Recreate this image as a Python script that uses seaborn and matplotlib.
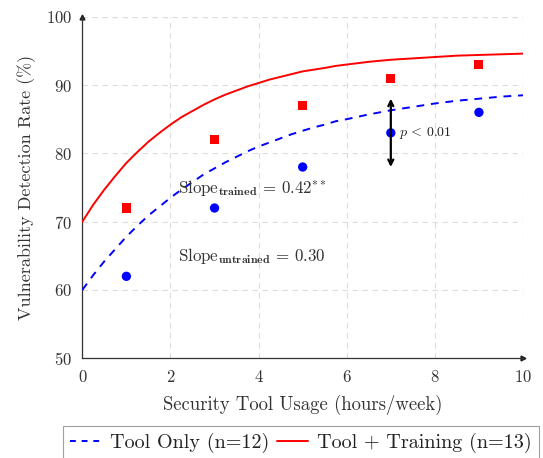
import numpy as np
import pandas as pd
import matplotlib
matplotlib.use("Agg")
import matplotlib.pyplot as plt
import seaborn as sns
from matplotlib.lines import Line2D

# ---- data ----
hours_pts = [1, 3, 5, 7, 9]
tool_only_pts = [62, 72, 78, 83, 86]
tool_training_pts = [72, 82, 87, 91, 93]

curve_x = [0, 0.25, 0.5, 0.75, 1, 1.25, 1.5, 1.75, 2, 2.25, 2.5, 2.75, 3, 3.25, 3.5, 3.75,
           4, 4.25, 4.5, 4.75, 5, 5.25, 5.5, 5.75, 6, 6.5, 7, 7.5, 8, 8.5, 9, 9.5, 10]
tool_only_curve = [60, 62.2, 64.2, 66.0, 67.8, 69.4, 70.9, 72.2, 73.5, 74.7, 75.8, 76.9,
                   77.8, 78.7, 79.5, 80.3, 81.0, 81.6, 82.2, 82.8, 83.3, 83.8, 84.2, 84.7, 85.0,
                   85.7, 86.3, 86.8, 87.3, 87.7, 88.0, 88.3, 88.5]
tool_training_curve = [70, 72.5, 74.7, 76.7, 78.6, 80.2, 81.7, 83.0, 84.2, 85.3, 86.2, 87.1,
                       87.9, 88.6, 89.2, 89.8, 90.3, 90.8, 91.2, 91.6, 92.0, 92.25, 92.5, 92.8, 93.0,
                       93.4, 93.7, 93.9, 94.1, 94.3, 94.4, 94.5, 94.6]

xticks = [0, 2, 4, 6, 8, 10]
yticks = [50, 60, 70, 80, 90, 100]
arrow_x, arrow_lo, arrow_hi = 7, 78, 88

sns.set_theme(style="white")
plt.rcParams['font.family'] = ['cmr10', 'DejaVu Serif']
plt.rcParams['mathtext.fontset'] = 'cm'
plt.rcParams['axes.formatter.use_mathtext'] = True
plt.rcParams['axes.unicode_minus'] = False

fig = plt.figure(figsize=(5.43, 4.58), dpi=100)
ax = fig.add_axes([0.1516, 0.2177, 0.8116, 0.7458])

df_curve = pd.DataFrame({"x": curve_x, "only": tool_only_curve, "train": tool_training_curve})
sns.lineplot(data=df_curve, x="x", y="only", ax=ax, color="#0000ff", lw=1.4,
             linestyle=(0, (4, 3.5)), zorder=3)
sns.lineplot(data=df_curve, x="x", y="train", ax=ax, color="#ff0000", lw=1.4, zorder=3)

df_pts = pd.DataFrame({"x": hours_pts, "only": tool_only_pts, "train": tool_training_pts})
sns.scatterplot(data=df_pts, x="x", y="only", ax=ax, color="#0000ff", marker="o", s=45,
                edgecolor="none", zorder=4)
sns.scatterplot(data=df_pts, x="x", y="train", ax=ax, color="#ff0000", marker="s", s=42,
                edgecolor="none", zorder=4)

ax.set_xlim(0, 10)
ax.set_ylim(50, 100)
ax.set_xticks(xticks)
ax.set_yticks(yticks)
ax.grid(True, linestyle=(0, (5, 4)), color="#dcdcdc", lw=0.8)
for s in ["top", "right"]:
    ax.spines[s].set_visible(False)
for s in ["left", "bottom"]:
    ax.spines[s].set_color("#333333")
    ax.spines[s].set_linewidth(0.9)
ax.axhline(100, color="#dcdcdc", lw=0.8, linestyle=(0, (5, 4)), zorder=0)
ax.axvline(10, color="#dcdcdc", lw=0.8, linestyle=(0, (5, 4)), zorder=0)

ax.plot(1, 0, ">", transform=ax.transAxes, color="#222222", ms=3.5, clip_on=False)
ax.plot(0, 1, "^", transform=ax.transAxes, color="#222222", ms=3.5, clip_on=False)

ax.tick_params(axis="both", direction="inout", length=5, width=0.6, color="#888888",
               labelsize=12, labelcolor="#333333", pad=5)
ax.set_xlabel("Security Tool Usage (hours/week)", fontsize=13.5, color="#333333", labelpad=7)
ax.set_ylabel("Vulnerability Detection Rate (%)", fontsize=13, color="#333333", labelpad=7)

ax.annotate("", xy=(arrow_x, arrow_hi), xytext=(arrow_x, arrow_lo),
            arrowprops=dict(arrowstyle="<->", color="black", lw=1.6, shrinkA=0, shrinkB=0,
                            mutation_scale=9), zorder=5)
ax.text(arrow_x + 0.18, 83, r"$p\,<\,0.01$", fontsize=10, va="center", ha="left", color="#222222")

ax.text(2.17, 75, r"Slope$_{\mathbf{trained}}$ = 0.42$^{**}$", fontsize=12.2, va="center",
        ha="left", color="#333333")
ax.text(2.17, 65, r"Slope$_{\mathbf{untrained}}$ = 0.30", fontsize=12.2, va="center",
        ha="left", color="#333333")

handles = [Line2D([], [], color="#0000ff", lw=1.4, linestyle=(0, (3, 3))),
           Line2D([], [], color="#ff0000", lw=1.4)]
leg = fig.legend(handles, ["Tool Only (n=12)", "Tool + Training (n=13)"], ncol=2,
                 loc="upper left", bbox_to_anchor=(63 / 543, 1 - 426 / 458),
                 fontsize=14.5, frameon=True, fancybox=False, handlelength=1.55,
                 columnspacing=0.35, handletextpad=0.45, borderpad=0.35, borderaxespad=0)
leg.get_frame().set_edgecolor("#888888")
leg.get_frame().set_linewidth(0.8)
for t in leg.get_texts():
    t.set_color("#222222")

fig.savefig("out.png", dpi=100)
